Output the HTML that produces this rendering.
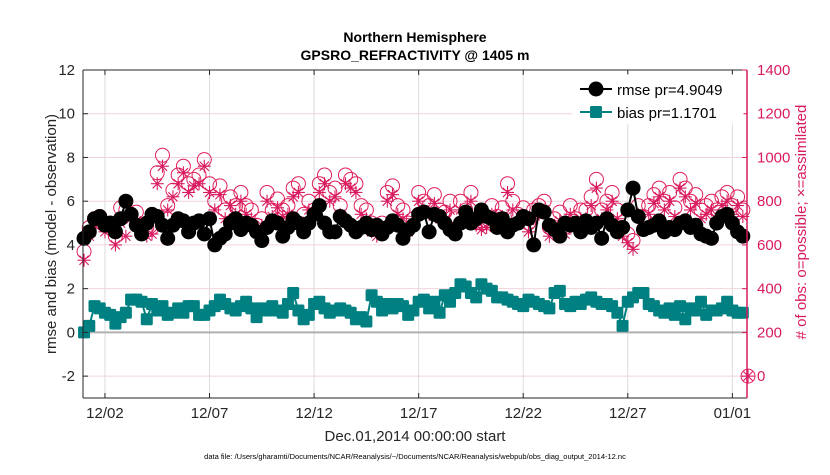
<!DOCTYPE html>
<html><head><meta charset="utf-8">
<style>
body{margin:0;background:#fff;}
svg text{font-family:"Liberation Sans",Helvetica,sans-serif;}
</style></head>
<body>
<svg id="chart" width="830" height="470" xmlns="http://www.w3.org/2000/svg">
<rect width="830" height="470" fill="#fff"/>
<g id="grid"></g>
<g id="series"></g>
<g id="axes"></g>
</svg>
<script>
const dayTickLabels=["12/02","12/07","12/12","12/17","12/22","12/27","01/01"];
const dayTicks=[1,6,11,16,21,26,31];
const leftTicks=[-2,0,2,4,6,8,10,12];
const rightTicks=[0,200,400,600,800,1000,1200,1400];
const bias=[0.0,0.3,1.2,1.1,0.9,0.8,0.4,0.7,0.9,1.5,1.5,1.4,
0.6,1.3,1.0,1.2,0.8,0.9,1.1,0.9,1.2,1.2,0.8,0.8,
1.0,1.2,1.5,1.3,1.1,1.0,1.2,1.4,1.1,0.7,1.1,1.0,
1.2,1.0,0.9,1.3,1.8,1.0,0.6,0.8,1.3,1.4,1.1,0.9,
1.0,1.1,1.0,0.9,0.6,0.7,0.5,1.7,1.4,1.0,1.3,1.1,
1.3,1.2,0.8,1.0,1.4,1.5,1.1,1.4,0.9,1.7,1.4,1.8,
2.2,2.1,1.8,1.6,2.2,2.0,1.9,1.6,1.6,1.5,1.4,1.3,
1.2,1.5,1.4,1.3,1.2,1.1,1.8,1.9,1.3,1.2,1.4,1.3,
1.5,1.6,1.4,1.3,1.3,1.2,0.9,0.3,1.4,1.6,1.8,1.8,
1.3,1.2,1.0,0.9,1.1,0.8,1.2,0.6,1.1,1.0,1.4,0.8,
1.0,1.0,1.1,1.4,1.0,0.9,0.9];
const rmse=[4.3,4.6,5.2,5.3,4.9,5.0,4.6,5.2,6.0,5.4,4.9,4.5,
5.0,5.4,5.3,4.9,4.3,4.9,5.2,5.1,4.6,5.0,5.1,4.5,
5.2,4.0,4.3,4.5,5.0,5.2,4.7,5.0,4.9,4.6,4.2,4.8,
5.1,5.0,4.4,4.8,5.2,5.0,4.6,5.0,5.4,5.8,5.0,4.6,
4.6,5.3,5.1,4.9,4.6,4.8,5.0,4.7,4.9,4.5,4.8,5.1,
4.9,4.3,4.7,4.9,5.4,5.5,4.6,5.4,5.3,5.0,4.7,4.5,
5.0,5.5,5.0,5.2,5.6,5.3,5.2,4.8,5.2,4.6,4.9,5.0,
5.3,5.2,4.0,5.6,5.5,4.9,4.7,4.4,5.0,4.9,5.0,4.6,
5.1,4.8,5.0,4.3,5.2,4.9,4.6,4.8,5.6,6.6,5.3,4.7,
4.8,4.9,5.1,4.6,4.8,4.7,5.0,5.1,4.8,4.9,4.5,4.4,
4.3,5.0,5.3,5.4,5.0,4.6,4.4];
const possible=[570,680,720,730,690,700,640,770,760,740,750,690,
680,680,930,1010,780,850,920,960,880,900,920,990,
880,800,870,760,820,780,840,780,760,690,720,840,
760,810,760,780,860,880,740,800,760,880,920,840,
860,780,920,900,880,780,760,700,680,700,840,870,
780,760,700,720,840,800,780,830,760,750,800,720,
800,760,840,720,700,710,780,730,770,880,800,740,
770,700,760,780,800,680,720,750,680,780,720,760,
760,820,900,760,800,840,760,680,650,620,780,730,
780,830,860,800,840,770,900,860,800,830,760,780,
800,760,820,840,780,820,760,0];
const assim=[530,640,690,700,660,670,600,700,640,720,710,650,
640,650,880,960,760,820,880,930,840,870,880,960,
840,760,830,720,780,740,800,740,720,660,690,800,
730,770,730,740,820,840,700,760,730,840,880,800,
820,740,880,860,840,740,720,660,640,660,800,830,
740,720,660,690,800,760,740,790,720,710,760,690,
760,720,800,690,670,680,740,690,730,840,760,700,
730,660,720,740,760,640,690,710,650,740,690,720,
720,780,860,720,760,800,720,640,610,580,740,690,
740,790,820,760,800,730,860,820,760,790,720,740,
760,720,780,800,740,780,730,0];

const X0=83,X1=747,Y0=70,Y1=398;
const dmin=-0.05,dmax=31.7;
const x=d=>X0+(d-dmin)/(dmax-dmin)*(X1-X0);
const yl=v=>Y1-(v+3)/15*(Y1-Y0);
const yr=v=>Y1-(v+100)/1500*(Y1-Y0);
const NS="http://www.w3.org/2000/svg";
function mk(tag,attrs,parent){const e=document.createElementNS(NS,tag);for(const k in attrs)e.setAttribute(k,attrs[k]);parent.appendChild(e);return e;}
const grid=document.getElementById('grid'),series=document.getElementById('series'),axes=document.getElementById('axes');
const tday=i=>i*0.25;

dayTicks.forEach(d=>{const l=mk('line',{x1:x(d),x2:x(d),y1:Y0,y2:Y1,stroke:'#dcdcdc','stroke-width':1},grid);

});
rightTicks.forEach(v=>{const l=mk('line',{x1:X0,x2:X1,y1:yr(v),y2:yr(v),stroke:'#f0d4dc','stroke-width':1},grid);

});
const zl=mk('line',{x1:X0,x2:X1,y1:yl(0),y2:yl(0),stroke:'#b0b0b0','stroke-width':2},grid);



possible.forEach((v,i)=>{const c=mk('circle',{cx:x(tday(i)),cy:yr(v),r:7,fill:'none',stroke:'#e0205a','stroke-width':1},series);

});
assim.forEach((v,i)=>{const cx=x(tday(i)),cy=yr(v),s=6.5;
const g=mk('g',{stroke:'#d81b60','stroke-width':1.1},series);


mk('line',{x1:cx-s,x2:cx+s,y1:cy,y2:cy},g);mk('line',{x1:cx,x2:cx,y1:cy-s,y2:cy+s},g);
mk('line',{x1:cx-4.6,x2:cx+4.6,y1:cy-4.6,y2:cy+4.6},g);mk('line',{x1:cx-4.6,x2:cx+4.6,y1:cy+4.6,y2:cy-4.6},g);});

const rl=mk('polyline',{points:rmse.map((v,i)=>x(tday(i))+','+yl(v)).join(' '),fill:'none',stroke:'#000','stroke-width':2},series);


rmse.forEach((v,i)=>{const c=mk('circle',{cx:x(tday(i)),cy:yl(v),r:7.5,fill:'#000'},series);

});
const bl=mk('polyline',{points:bias.map((v,i)=>x(tday(i))+','+yl(v)).join(' '),fill:'none',stroke:'#008080','stroke-width':2},series);


bias.forEach((v,i)=>{const r=mk('rect',{x:x(tday(i))-6,y:yl(v)-6,width:12,height:12,rx:1.5,fill:'#008080'},series);

});

mk('line',{x1:X0,x2:X0,y1:Y0,y2:Y1,stroke:'#262626','stroke-width':1},axes);
mk('line',{x1:X0,x2:X1,y1:Y1,y2:Y1,stroke:'#262626','stroke-width':1},axes);
mk('line',{x1:X0,x2:X1,y1:Y0,y2:Y0,stroke:'#262626','stroke-width':1},axes);
mk('line',{x1:X1,x2:X1,y1:Y0,y2:Y1,stroke:'#d81b60','stroke-width':1.5},axes);
leftTicks.forEach(v=>{mk('line',{x1:X0,x2:X0+5,y1:yl(v),y2:yl(v),stroke:'#262626'},axes);
const t=mk('text',{x:X0-8,y:yl(v)+5,'text-anchor':'end','font-size':15,fill:'#262626'},axes);t.textContent=v;

});
rightTicks.forEach(v=>{mk('line',{x1:X1-5,x2:X1,y1:yr(v),y2:yr(v),stroke:'#d81b60'},axes);
const t=mk('text',{x:X1+10,y:yr(v)+5,'font-size':15,fill:'#d81b60'},axes);t.textContent=v;

});
dayTicks.forEach((d,i)=>{mk('line',{x1:x(d),x2:x(d),y1:Y1,y2:Y1-5,stroke:'#262626'},axes);mk('line',{x1:x(d),x2:x(d),y1:Y0,y2:Y0+5,stroke:'#262626'},axes);
const t=mk('text',{x:x(d),y:418,'text-anchor':'middle','font-size':15,fill:'#262626'},axes);t.textContent=dayTickLabels[i];

});
</script>
<svg style="position:absolute;left:0;top:0" width="830" height="470">
<text x="415" y="42" text-anchor="middle" font-size="14" font-weight="bold" fill="#000">Northern Hemisphere</text>
<text x="415" y="60" text-anchor="middle" font-size="14" font-weight="bold" fill="#000">GPSRO_REFRACTIVITY @ 1405 m</text>
<text x="415" y="441" text-anchor="middle" font-size="15" fill="#262626">Dec.01,2014 00:00:00 start</text>
<text transform="translate(56,234) rotate(-90)" text-anchor="middle" font-size="15" fill="#262626">rmse and bias (model - observation)</text>
<text transform="translate(806,222) rotate(-90)" text-anchor="middle" font-size="15" fill="#d81b60"># of obs: o=possible; ×=assimilated</text>
<text x="415" y="459" text-anchor="middle" font-size="7.5" fill="#000">data file: /Users/gharamti/Documents/NCAR/Reanalysis/~/Documents/NCAR/Reanalysis/webpub/obs_diag_output_2014-12.nc</text>
<g>
<rect x="573" y="75" width="170" height="48" fill="#fff" stroke="#fff"/>
<line x1="580" y1="89" x2="612" y2="89" stroke="#000" stroke-width="2"/>
<circle cx="596" cy="89" r="7.5" fill="#000"/>
<text x="617" y="95" font-size="15" fill="#000">rmse pr=4.9049</text>
<line x1="580" y1="112" x2="612" y2="112" stroke="#008080" stroke-width="2"/>
<rect x="590" y="106" width="12" height="12" rx="1.5" fill="#008080"/>
<text x="617" y="118" font-size="15" fill="#000">bias pr=1.1701</text>
</g>
</svg>
</body></html>
